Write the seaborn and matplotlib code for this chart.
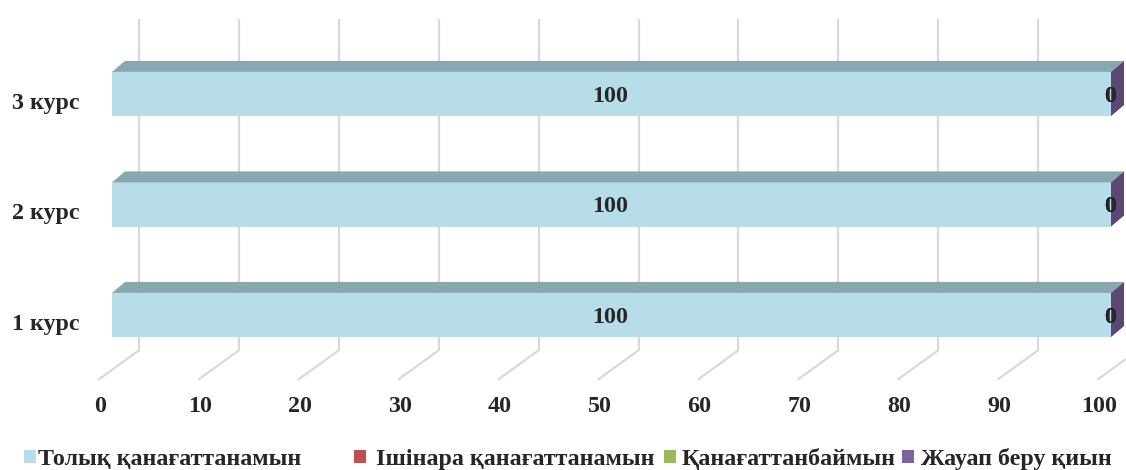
import numpy as np
import pandas as pd
import matplotlib
matplotlib.use("Agg")
import matplotlib.pyplot as plt
import seaborn as sns
from matplotlib.patches import Polygon, Patch
from matplotlib.lines import Line2D
from matplotlib.transforms import offset_copy, IdentityTransform
from matplotlib.colors import to_rgb

# ---- data ----
courses = ["3 курс", "2 курс", "1 курс"]
responses = ["Толық қанағаттанамын", "Ішінара қанағаттанамын",
             "Қанағаттанбаймын", "Жауап беру қиын"]
fully_satisfied = [100, 100, 100]
partly_satisfied = [0, 0, 0]
not_satisfied = [0, 0, 0]
hard_to_answer = [0, 0, 0]
x_ticks = [0, 10, 20, 30, 40, 50, 60, 70, 80, 90, 100]

colors = ["#b7dee8", "#c0504d", "#9bbb59", "#8064a2"]
grid_color = "#d9d9d9"

sns.set_theme(style="white")
plt.rcParams["font.family"] = ["Liberation Serif", "DejaVu Serif"]
plt.rcParams["font.weight"] = "bold"

W, H = 1126, 470
fig = plt.figure(figsize=(W / 100, H / 100), dpi=100)
ax = fig.add_axes([112 / W, (H - 370.25) / H, 999 / W, 331.5 / H])

series = np.array([fully_satisfied, partly_satisfied, not_satisfied, hard_to_answer])
cum = np.cumsum(series, axis=0)
bar_w = 0.4

# stacked bars: draw cumulative totals from the last series to the first
for i in reversed(range(len(responses))):
    sns.barplot(x=cum[i], y=courses, order=courses, orient="h", color=colors[i],
                saturation=1, width=bar_w, edgecolor="none", linewidth=0, ax=ax)
for p in ax.patches:
    p.set_zorder(3)

ax.set_xlim(0, 100)
ax.set_ylim(2.5, -0.5)
ax.set_axis_off()

FS = 17.3
# depth offsets (pixels) for the pseudo-3D look
back = offset_copy(ax.transData, fig=fig, x=27, y=20, units="dots")
depth_bar = np.array([13, 11])


def shade(c, k=0.75):
    r, g, b = to_rgb(c)
    return (r * k, g * k, b * k)


# back-wall gridlines and floor diagonals
for t in x_ticks:
    ax.add_artist(Line2D([t, t], [-0.5, 2.5], transform=back, color=grid_color,
                         lw=1.6, zorder=0.5, clip_on=False, solid_capstyle="butt"))
    p = ax.transData.transform((t, 2.5))
    ax.add_artist(Line2D([p[0] + 27, p[0] - 13], [p[1] + 20, p[1] - 9],
                         transform=IdentityTransform(), color=grid_color,
                         lw=1.6, zorder=0.5, clip_on=False))
    ax.text(t, 2.5, str(t), transform=offset_copy(ax.transData, fig=fig, x=-12, y=-42, units="dots"),
            ha="center", va="baseline", fontsize=FS, fontweight="bold", clip_on=False)

# top and side faces of each bar
for j, c in enumerate(courses):
    y_top = j - bar_w / 2
    y_bot = j + bar_w / 2
    for i in range(len(responses)):
        left = cum[i][j] - series[i][j]
        right = cum[i][j]
        if right <= left:
            continue
        a = ax.transData.transform((left, y_top))
        b = ax.transData.transform((right, y_top))
        pts = [a, b, b + depth_bar, a + depth_bar]
        ax.add_artist(Polygon(pts, closed=True, transform=IdentityTransform(),
                              facecolor=shade(colors[i]), edgecolor="none",
                              zorder=3, clip_on=False))
    total = cum[-1][j]
    s1 = ax.transData.transform((total, y_top))
    s2 = ax.transData.transform((total, y_bot))
    pts = [s1, s2, s2 + depth_bar, s1 + depth_bar]
    ax.add_artist(Polygon(pts, closed=True, transform=IdentityTransform(),
                          facecolor=shade(colors[-1], 0.72), edgecolor="none",
                          zorder=3, clip_on=False))
    ax.text(0, j, c, transform=offset_copy(ax.transData, fig=fig, x=-32, y=-15, units="dots"),
            ha="right", va="baseline", fontsize=FS, fontweight="bold", clip_on=False)

# data labels
label_tr = offset_copy(ax.transData, fig=fig, x=-1, y=-8, units="dots")
for i in range(len(responses)):
    for j in range(len(courses)):
        v = series[i][j]
        ax.text(cum[i][j] - v / 2, j, f"{v}", transform=label_tr, ha="center",
                va="baseline", fontsize=FS, fontweight="bold", zorder=5, clip_on=False)

# legend entries, one per response
legend_x = [24, 354, 664, 902]
legend_pad = [0.1, 0.4, 0.25, 0.3]
for col, name, lx, pad in zip(colors, responses, legend_x, legend_pad):
    fig.legend([Patch(facecolor=col, edgecolor="none")], [name], loc="lower left",
               bbox_to_anchor=(lx / W, 0), frameon=False, handlelength=0.5,
               handleheight=0.5, handletextpad=pad, borderaxespad=0, borderpad=0,
               prop={"weight": "bold", "size": FS})

fig.savefig("out.png", dpi=100)
